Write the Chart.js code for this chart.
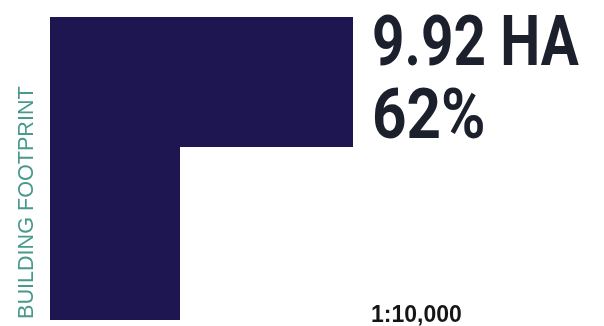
<!DOCTYPE html>
<html>
<head>
<meta charset="utf-8">
<script src="https://cdn.jsdelivr.net/npm/chart.js@4/dist/chart.umd.min.js"></script>
<style>
  html, body { margin: 0; padding: 0; background: #fff; }
  #wrap { position: relative; width: 604px; height: 326px; }
</style>
</head>
<body>
<div id="wrap"><canvas id="footprint" width="604" height="326"></canvas></div>
<script>
// outline of the footprint, plan units (1px at 1:10,000 layout)
const footprintX = [0, 130, 130, 303, 303, 0, 0];
const footprintY = [0, 0, 173, 173, 303, 303, 0];

const areaLabel = '9.92 HA';
const shareLabel = '62%';
const scaleLabel = '1:10,000';
const sideLabel = 'BUILDING FOOTPRINT';

const points = footprintX.map((x, i) => ({ x: x, y: footprintY[i] }));

const labelsPlugin = {
  id: 'labels',
  afterDraw(chart) {
    const ctx = chart.ctx;
    ctx.save();
    // big figures, condensed
    ctx.fillStyle = '#1b202c';
    ctx.font = 'bold 70px Roboto';
    ctx.textBaseline = 'alphabetic';
    ctx.save();
    ctx.translate(372, 65);
    ctx.scale(0.81, 1);
    ctx.fillText(areaLabel, 0, 0);
    ctx.restore();
    ctx.save();
    ctx.translate(372, 138);
    ctx.scale(0.86, 1);
    ctx.fillText(shareLabel, 0, 0);
    ctx.restore();

    ctx.fillStyle = '#151515';
    ctx.font = 'bold 23px "Liberation Sans"';
    ctx.fillText(scaleLabel, 371, 322);

    // side label, rotated
    ctx.fillStyle = '#4a9a8c';
    ctx.font = '21.6px "Liberation Sans"';
    ctx.translate(33, 319);
    ctx.rotate(-Math.PI / 2);
    ctx.fillText(sideLabel, 0, 0);
    ctx.restore();
  }
};

new Chart(document.getElementById('footprint').getContext('2d'), {
  type: 'scatter',
  data: {
    datasets: [{
      label: 'Building footprint',
      data: points,
      showLine: true,
      fill: 'shape',
      backgroundColor: '#1e1650',
      borderColor: '#1e1650',
      borderWidth: 0,
      pointRadius: 0,
      tension: 0
    }]
  },
  options: {
    responsive: false,
    animation: false,
    layout: { padding: { left: 50, top: 17, right: 251, bottom: 6 } },
    plugins: { legend: { display: false }, tooltip: { enabled: false } },
    scales: {
      x: { type: 'linear', min: 0, max: 303, display: false },
      y: { type: 'linear', min: 0, max: 303, display: false }
    }
  },
  plugins: [labelsPlugin]
});
</script>
</body>
</html>
